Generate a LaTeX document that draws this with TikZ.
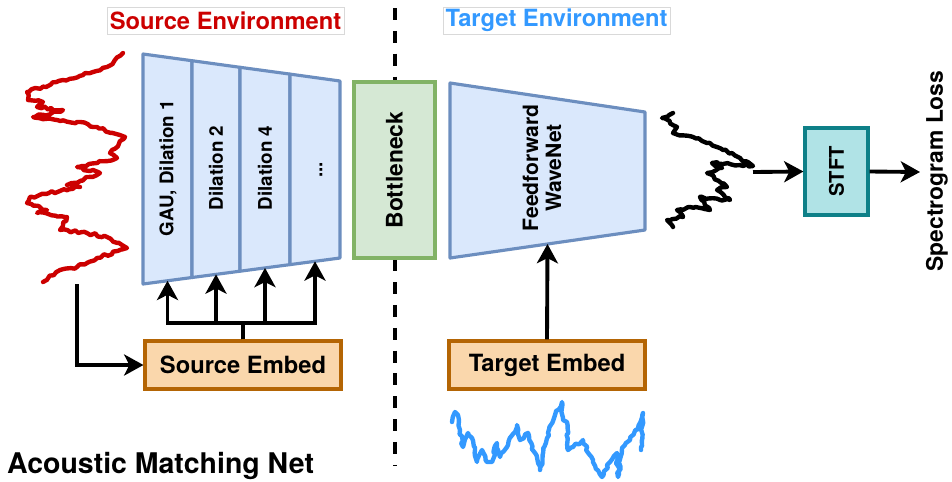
\documentclass[tikz,border=0pt]{standalone}
\usepackage{fontspec}
\setmainfont{TeX Gyre Heros}
\usepackage{tikz}
\usetikzlibrary{arrows.meta,positioning,calc,decorations.pathmorphing}

\definecolor{encfill}{HTML}{DAE8FC}
\definecolor{encline}{HTML}{6C8EBF}
\definecolor{bnfill}{HTML}{D5E8D4}
\definecolor{bnline}{HTML}{82B366}
\definecolor{embfill}{HTML}{FAD7AC}
\definecolor{embline}{HTML}{B46504}
\definecolor{stftfill}{HTML}{B0E3E6}
\definecolor{stftline}{HTML}{0E8088}
\definecolor{srcred}{HTML}{CC0000}
\definecolor{tgtblue}{HTML}{3399FF}

\newcommand{\fs}[1]{\fontsize{#1}{#1}\selectfont\bfseries}

\begin{document}
\begin{tikzpicture}[x=0.02cm, y=-0.02cm,
    block/.style={draw=encline, fill=encfill, line width=1.8pt, line join=round},
    embed/.style={draw=embline, fill=embfill, line width=1.8pt,
      minimum width=3.92cm, minimum height=0.96cm, font=\fs{13.5}},
    envlabel/.style={draw=black!15, line width=0.4pt, minimum height=0.54cm, inner sep=0pt, font=\fs{13.5}},
    celllabel/.style={rotate=90, font=\fs{10.7}},
    wave/.style={line width=2.5pt, line join=round, line cap=round, decorate,
      decoration={random steps, segment length=2pt, amplitude=0.8pt}},
    arr/.style={-{Stealth[length=11pt, width=12pt, inset=3pt]}, line width=2.2pt},
    dashline/.style={line width=2.2pt, dash pattern=on 6.8pt off 6.2pt}
  ]
  \useasboundingbox (0,0) rectangle (952,481);
  \pgfmathsetseed{7}

  % Environment labels
  \node[envlabel, text=srcred, minimum width=4.74cm] (srcenv) at (225.5,20.5) {Source Environment};
  \node[envlabel, text=tgtblue, minimum width=4.54cm] (tgtenv) at (556.5,20.5) {Target Environment};

  % Separator
  \coordinate (septop) at (395,8);
  \coordinate (sepbot) at (395,466);
  \draw[dashline] (septop) -- (sepbot);

  % Encoder
  \coordinate (enct0) at (143,54);
  \coordinate (enct1) at (192,60.7);
  \coordinate (enct2) at (240,67.3);
  \coordinate (enct3) at (290,74.1);
  \coordinate (enct4) at (340,81);
  \coordinate (encb0) at (143,284);
  \coordinate (encb1) at (192,277.5);
  \coordinate (encb2) at (240,271.2);
  \coordinate (encb3) at (290,264.6);
  \coordinate (encb4) at (340,258);
  \foreach \i/\j in {0/1,1/2,2/3,3/4}{
    \draw[block] (enct\i) -- (enct\j) -- (encb\j) -- (encb\i) -- cycle;
    \coordinate (in\i) at ($(encb\i)!0.5!(encb\j)$);
  }
  \node[celllabel] (cell1) at (168,168) {GAU, Dilation 1};
  \node[celllabel] (cell2) at (216,168) {Dilation 2};
  \node[celllabel] (cell3) at (265,168) {Dilation 4};
  \node[celllabel] (cell4) at (321,170) {...};

  % Bottleneck
  \node[draw=bnline, fill=bnfill, line width=1.8pt, minimum width=1.62cm, minimum height=3.52cm,
    font=\fs{13}] (bneck) at (394.5,170) {\rotatebox{90}{Bottleneck}};

  % Decoder
  \coordinate (dectl) at (450,83);
  \coordinate (dectr) at (645,112);
  \coordinate (decbr) at (645,230);
  \coordinate (decbl) at (450,258);
  \draw[block] (dectl) -- (dectr) -- (decbr) -- (decbl) -- cycle;
  \coordinate (decin) at ($(decbl)!0.5!(decbr)$);
  \node[rotate=90, align=center, font=\fontsize{12}{13}\selectfont\bfseries] (dec) at (542,168) {Feedforward\\WaveNet};

  % Embeddings
  \node[embed] (srcemb) at (243,365) {Source Embed};
  \node[embed] (tgtemb) at (547,365) {Target Embed};
  \coordinate (split) at (243,323);
  \foreach \i in {0,...,3}
    \draw[arr] (srcemb.north) -- (split) -| (in\i);
  \draw[arr] (tgtemb.north) -- (decin);

  % Waveforms
  \draw[wave, srcred] (123,53) -- (107,67) -- (93,72) -- (63,80) -- (27,92) -- (28,100)
    -- (43,102) -- (37,107) -- (63,110) -- (33,117) -- (77,122) -- (97,127) -- (125,137)
    -- (110,153) -- (117,158) -- (77,167) -- (100,173) -- (67,185) -- (80,187) -- (30,197)
    -- (27,203) -- (47,210) -- (37,213) -- (67,217) -- (60,230) -- (87,233) -- (107,237)
    -- (127,248) -- (97,258) -- (77,267) -- (60,270) -- (43,282);
  \draw[wave] (673,113) -- (662,118) -- (677,127) -- (673,133) -- (693,137) -- (707,143)
    -- (723,150) -- (740,158) -- (753,166) -- (730,164) -- (712,163) -- (722,168) -- (707,173)
    -- (727,187) -- (717,190) -- (730,200) -- (700,197) -- (710,210) -- (690,207) -- (677,210)
    -- (683,217) -- (667,220) -- (673,227);
  \draw[wave, tgtblue] (452,422) -- (455,412) -- (458,415) -- (460,430) -- (463,447) -- (468,433)
    -- (472,438) -- (475,450) -- (477,462) -- (482,450) -- (487,462) -- (492,462) -- (497,443)
    -- (500,457) -- (507,447) -- (517,425) -- (520,440) -- (528,433) -- (540,470) -- (548,433)
    -- (555,415) -- (562,402) -- (563,420) -- (567,422) -- (568,450) -- (573,447) -- (583,440)
    -- (593,462) -- (602,477) -- (610,462) -- (617,453) -- (618,477) -- (622,448) -- (630,440)
    -- (640,423) -- (643,413) -- (641,450);

  % Source to embed
  \coordinate (srcout) at (77,284);
  \draw[arr] (srcout) |- (srcemb.west);

  % STFT and loss
  \node[draw=stftline, fill=stftfill, line width=1.8pt, minimum width=1.26cm, minimum height=1.74cm,
    font=\fs{11.5}] (stft) at (836.5,171.5) {\rotatebox{90}{STFT}};
  \coordinate (wavout) at (753,172);
  \coordinate (lossin) at (920,172);
  \draw[arr] (wavout) -- (stft.west);
  \draw[arr] (stft.east) -- (lossin);
  \node[rotate=90, font=\fs{13}] (loss) at (937,171) {Spectrogram Loss};

  % Labels
  \node[anchor=west, font=\fs{16.2}] (title) at (1,466) {Acoustic Matching Net};
\end{tikzpicture}
\end{document}
